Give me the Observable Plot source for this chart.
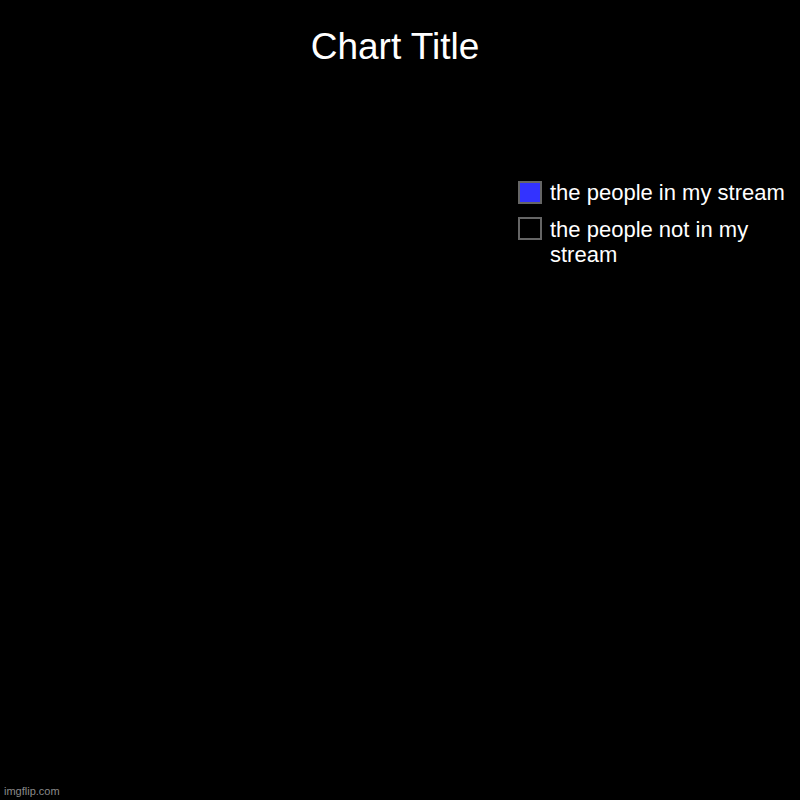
<!DOCTYPE html>
<html>
<head>
<meta charset="utf-8">
<script src="https://cdn.jsdelivr.net/npm/d3@7"></script>
<script src="https://cdn.jsdelivr.net/npm/@observablehq/plot@0.6"></script>
<style>
  html, body { margin: 0; padding: 0; background: #000; }
  #wrap { position: relative; width: 800px; height: 800px; background: #000; overflow: hidden;
          font-family: "Liberation Sans", Arial, Helvetica, sans-serif; color: #fff; }
  #chart { position: absolute; left: 0; top: 0; }
  .title { position: absolute; left: -5px; width: 800px; top: 27.5px; text-align: center;
           font-size: 37px; line-height: 37px; white-space: nowrap; }
  .item { position: absolute; left: 518px; width: 280px; }
  .box { position: absolute; left: 0; width: 20px; height: 19px; border: 2px solid #666; }
  .label { position: absolute; left: 32px; width: 245px; font-size: 22px; line-height: 25px; }
  .wm { position: absolute; left: 4px; top: 785.5px; font-size: 11px; line-height: 11px; color: #8a8a8a; }
</style>
</head>
<body>
<div id="wrap">
  <div id="chart"></div>
</div>
<script>
const title = "Chart Title";
const categories = ["the people in my stream", "the people not in my stream"];
const values = [0, 0];
const colors = ["#3333ff", "#000000"];
const borderColor = "#666666";
const watermark = "imgflip.com";

const wrap = document.getElementById("wrap");

// Pie slices from data via d3.pie, drawn through Plot's x/y scales
const pieData = categories.map((c, i) => ({category: c, value: values[i]}));
const arcs = d3.pie().sort(null).value(d => d.value)(pieData);
const pts = [];
for (const a of arcs) {
  if (!(a.endAngle > a.startAngle)) continue;
  const steps = Math.max(2, Math.ceil((a.endAngle - a.startAngle) / 0.02));
  pts.push({category: a.data.category, x: 0, y: 0});
  for (let k = 0; k <= steps; k++) {
    const t = a.startAngle + (a.endAngle - a.startAngle) * k / steps;
    pts.push({category: a.data.category, x: Math.sin(t), y: Math.cos(t)});
  }
  pts.push({category: a.data.category, x: 0, y: 0});
}

const plot = Plot.plot({
  width: 800,
  height: 800,
  margin: 0,
  style: {background: "#000"},
  x: {domain: [-250 / 230, 550 / 230], axis: null},
  y: {domain: [-360 / 230, 440 / 230], axis: null},
  color: {domain: categories, range: colors},
  marks: [
    Plot.line(pts, {x: "x", y: "y", z: "category", fill: "category", stroke: borderColor, strokeWidth: 2, curve: "linear"})
  ]
});
document.getElementById("chart").appendChild(plot);

// Title
const t = document.createElement("div");
t.className = "title";
t.textContent = title;
wrap.appendChild(t);

// Legend
const itemTops = [179.5, 217.2];
const boxTops = [181, 217];
categories.forEach((c, i) => {
  const item = document.createElement("div");
  item.className = "item";
  item.style.top = "0px";
  const box = document.createElement("div");
  box.className = "box";
  box.style.top = boxTops[i] + "px";
  box.style.background = colors[i];
  const label = document.createElement("div");
  label.className = "label";
  label.style.top = itemTops[i] + "px";
  label.textContent = c;
  item.appendChild(box);
  item.appendChild(label);
  wrap.appendChild(item);
});

// Watermark
const w = document.createElement("div");
w.className = "wm";
w.textContent = watermark;
wrap.appendChild(w);
</script>
</body>
</html>
